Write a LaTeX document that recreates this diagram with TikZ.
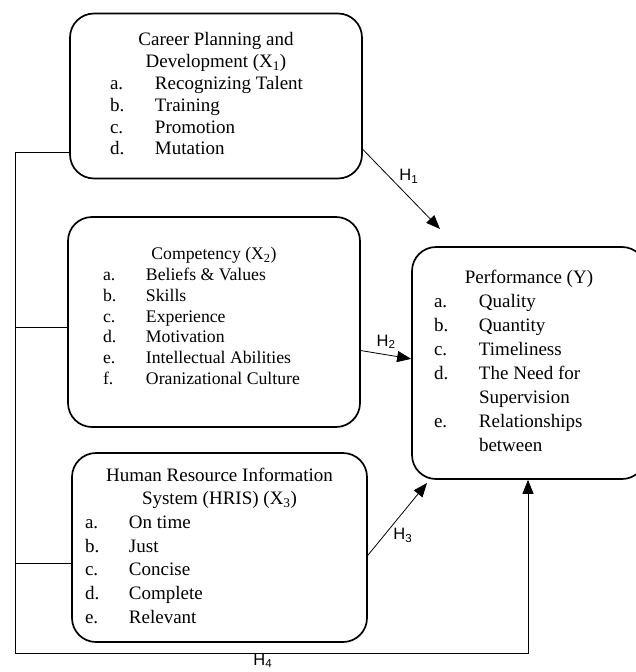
\documentclass[tikz,border=0pt]{standalone}
\usepackage{fontspec}
\setmainfont{Liberation Serif}
\newfontfamily\labelfont{Liberation Sans}
\usetikzlibrary{arrows.meta,positioning,calc}

\begin{document}
\begin{tikzpicture}[x=1pt,y=-1pt,
    box/.style={draw,line width=1.7pt,rounded corners=24pt,inner sep=0pt},
    link/.style={line width=0.8pt},
    arr/.style={link,-{Triangle[length=14pt,width=11pt]}},
    hyp/.style={font=\labelfont\fontsize{16.5}{18}\selectfont,inner sep=1.5pt}]
    \useasboundingbox (0,0) rectangle (635,672);

    % the four variables
    \node[box,minimum width=292pt,minimum height=165pt,font=\fontsize{19}{21.8}\selectfont] (X1) at (216,96) {%
        \begin{tabular}{@{\hspace{38pt}}p{45pt}@{}p{205pt}@{}}
        \multicolumn{2}{c}{Career Planning and}\\
        \multicolumn{2}{c}{Development (X\textsubscript{1})}\\
        a. & Recognizing Talent\\
        b. & Training\\
        c. & Promotion\\
        d. & Mutation
        \end{tabular}};
    \node[box,minimum width=292pt,minimum height=210pt,font=\fontsize{17.7}{20.8}\selectfont] (X2) at (214,322) {%
        \begin{tabular}{@{\hspace{34pt}}p{43pt}@{}p{213pt}@{}}
        \multicolumn{2}{c}{Competency (X\textsubscript{2})}\\
        a. & Beliefs \& Values\\
        b. & Skills\\
        c. & Experience\\
        d. & Motivation\\
        e. & Intellectual Abilities\\
        f. & Oranizational Culture\rule[-14.2pt]{0pt}{0pt}
        \end{tabular}};
    \node[box,minimum width=295pt,minimum height=189pt,font=\fontsize{19}{23.7}\selectfont] (X3) at (219.5,547.5) {%
        \begin{tabular}{@{\hspace{12pt}}p{44pt}@{}p{237pt}@{}}
        \multicolumn{2}{c}{Human Resource Information}\\
        \multicolumn{2}{c}{System (HRIS) (X\textsubscript{3})}\\
        a. & On time\\
        b. & Just\\
        c. & Concise\\
        d. & Complete\\
        e. & Relevant
        \end{tabular}};
    \node[box,minimum width=234pt,minimum height=232pt,font=\fontsize{19}{24}\selectfont] (Y) at (529,363) {%
        \begin{tabular}{@{\hspace{21pt}}p{45pt}@{}p{166pt}@{}}
        \multicolumn{2}{c}{Performance (Y)}\\
        a. & Quality\\
        b. & Quantity\\
        c. & Timeliness\\
        d. & The Need for\\
           & Supervision\\
        e. & Relationships\\
           & between
        \end{tabular}};

    \coordinate (busBot) at (15,653);
    \coordinate (h4corner) at (528,653);
    \coordinate (h1tip) at (440,229);
    \coordinate (h3tip) at (427,483);

    % hypotheses
    \draw[arr] (X1.-20) -- node[hyp,pos=0.45,above right] (h1) {H\textsubscript{1}} (h1tip);
    \draw[arr] (X2.-11.5) -- node[hyp,midway,above=4pt] (h2) {H\textsubscript{2}} (Y.178);
    \draw[arr] (X3.-3) -- node[hyp,pos=0.4,below right] (h3) {H\textsubscript{3}} (h3tip);
    \draw[link] (X2.182) -- (X2.182 -| busBot);
    \draw[link] (X3.186) -- (X3.186 -| busBot);
    \draw[arr] (X1.201) -| (busBot) -- node[hyp,pos=0.483,below=0pt,inner sep=0.5pt] (h4) {H\textsubscript{4}} (h4corner) -- (h4corner |- Y.south);
\end{tikzpicture}
\end{document}
